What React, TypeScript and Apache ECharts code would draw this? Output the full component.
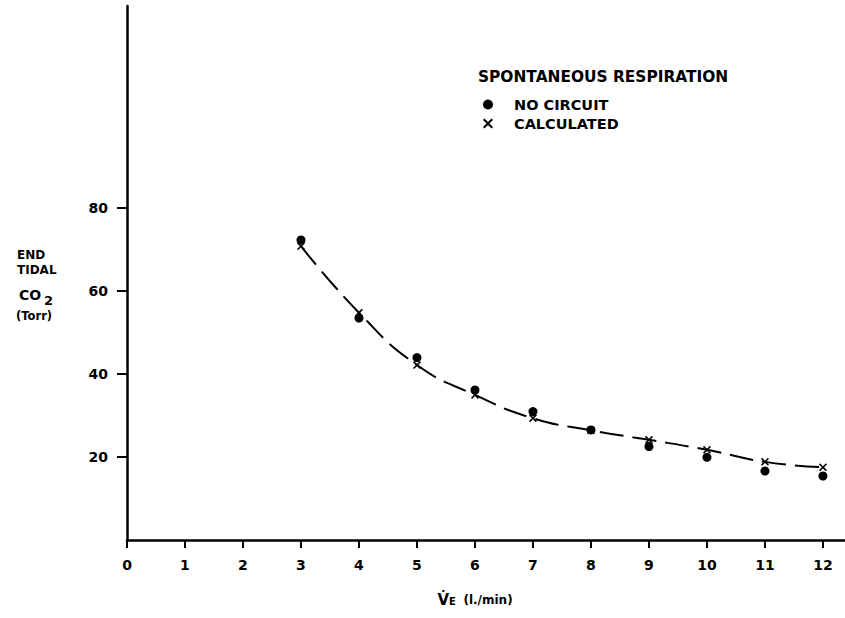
import React, { useEffect, useRef } from "react";
import * as echarts from "echarts";

const veValues = [3, 4, 5, 6, 7, 8, 9, 10, 11, 12];
const noCircuit = [72.2, 53.4, 43.9, 36.1, 30.9, 26.5, 22.5, 19.9, 16.6, 15.4];
const calculated = [70.7, 54.7, 42.1, 34.9, 29.3, 26.4, 24.1, 21.7, 18.8, 17.5];
const xTickValues = [0, 1, 2, 3, 4, 5, 6, 7, 8, 9, 10, 11, 12];
const yTickValues = [20, 40, 60, 80];
const legendTitle = "SPONTANEOUS RESPIRATION";
const seriesNames = ["NO CIRCUIT", "CALCULATED"];
const yTitleLines = ["END", "TIDAL", "CO", "2", "(Torr)"];

const CROSS =
  "path://M0,1.4L1.4,0L5,3.6L8.6,0L10,1.4L6.4,5L10,8.6L8.6,10L5,6.4L1.4,10L0,8.6L3.6,5Z";

export default function App() {
  const ref = useRef<HTMLDivElement>(null);
  useEffect(() => {
    const chart = echarts.init(ref.current!, null, { renderer: "svg" });
    const font = "DejaVu Sans";
    const black = "#000";
    chart.setOption({
      animation: false,
      backgroundColor: "#fff",
      textStyle: { fontFamily: font },
      grid: { left: 127, top: 6, width: 718, height: 534, containLabel: false },
      xAxis: {
        type: "value",
        min: 0,
        max: 12.38,
        axisLine: { lineStyle: { color: black, width: 2.5 } },
        axisTick: { customValues: xTickValues, length: 8, lineStyle: { color: black, width: 2 } },
        axisLabel: {
          customValues: xTickValues,
          margin: 18,
          color: black,
          fontSize: 14,
          fontWeight: "bold",
          fontFamily: font,
        },
        splitLine: { show: false },
        name: "{v|V\u0307}{e|E}  {u|(l./min)}",
        nameLocation: "middle",
        nameGap: 52,
        nameTextStyle: {
          padding: [0, 22, 0, 0],
          rich: {
            v: { fontSize: 15, fontWeight: "bold", color: black, fontFamily: font },
            e: { fontSize: 10, fontWeight: "bold", color: black, fontFamily: font, padding: [3, 0, 0, 0] },
            u: { fontSize: 12, fontWeight: "bold", color: black, fontFamily: font },
          },
        },
      },
      yAxis: {
        type: "value",
        min: 0,
        max: 128.5,
        axisLine: { show: true, lineStyle: { color: black, width: 2.5 } },
        axisTick: { show: true, customValues: yTickValues, length: 10, lineStyle: { color: black, width: 2 } },
        axisLabel: {
          customValues: yTickValues,
          margin: 19,
          color: black,
          fontSize: 14,
          fontWeight: "bold",
          fontFamily: font,
        },
        splitLine: { show: false },
      },
      legend: {
        orient: "vertical",
        left: 478,
        top: 92,
        itemWidth: 10,
        itemHeight: 10,
        itemGap: 4,
        selectedMode: false,
        data: [
          { name: seriesNames[0], icon: "circle", itemStyle: { color: black, opacity: 1 } },
          { name: seriesNames[1], icon: CROSS, itemStyle: { color: black, opacity: 1 } },
        ],
        textStyle: {
          fontSize: 14.5,
          fontWeight: "bold",
          color: black,
          fontFamily: font,
          padding: [0, 0, 0, 16],
        },
      },
      graphic: [
        {
          type: "text",
          left: 478,
          top: 69,
          style: { text: legendTitle, font: `bold 15.4px ${font}`, fill: black },
        },
        { type: "text", left: 17, top: 249, style: { text: yTitleLines[0], font: `bold 12px ${font}`, fill: black } },
        { type: "text", left: 17, top: 264, style: { text: yTitleLines[1], font: `bold 12px ${font}`, fill: black } },
        { type: "text", left: 19, top: 288, style: { text: yTitleLines[2], font: `bold 14px ${font}`, fill: black } },
        { type: "text", left: 44, top: 294, style: { text: yTitleLines[3], font: `bold 13px ${font}`, fill: black } },
        { type: "text", left: 16, top: 310, style: { text: yTitleLines[4], font: `bold 11.5px ${font}`, fill: black } },
      ],
      series: [
        {
          name: seriesNames[1],
          type: "line",
          z: 2,
          smooth: 0.5,
          data: veValues.map((x, i) => [x, calculated[i]]),
          symbol: CROSS,
          symbolSize: 8,
          itemStyle: { color: black },
          lineStyle: { color: black, width: 2, type: [24, 9] },
        },
        {
          name: seriesNames[0],
          type: "scatter",
          z: 3,
          data: veValues.map((x, i) => [x, noCircuit[i]]),
          symbol: "circle",
          symbolSize: 9,
          itemStyle: { color: black, opacity: 1 },
        },
      ],
    });
    return () => chart.dispose();
  }, []);
  return (
    <div
      ref={ref}
      style={{ position: "fixed", left: 0, top: 0, width: 845, height: 618, background: "#fff" }}
    />
  );
}
